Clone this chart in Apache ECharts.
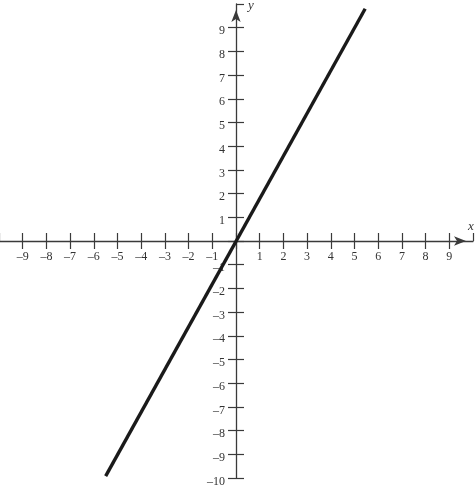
<!DOCTYPE html>
<html>
<head>
<meta charset="utf-8">
<script src="https://cdn.jsdelivr.net/npm/echarts@6/dist/echarts.min.js"></script>
<style>
  html, body { margin: 0; padding: 0; background: #fff; }
  #main { width: 475px; height: 486px; }
</style>
</head>
<body>
<div id="main"></div>
<script>
// axis ranges
var xRange = [-10, 10]
var yRange = [-10, 10]
// the straight line, two end points (y ~ 1.8x)
var lineX = [-5.5, 5.45]
var lineY = [-9.92, 9.8]

var lineData = lineX.map(function (x, i) { return [x, lineY[i]] })

var axisColor = '#3a3a3a'
// grid is 474 px square, the axes are pulled in by half of it so they cross at 0
var gridSize = 474
var halfOffset = -gridSize / 2

// minus drawn as a dash like the print, zero left blank
function tickText(v) {
    if (v === 0) return ''
    return v < 0 ? '\u2013' + Math.abs(v) : String(v)
}

var myChart = echarts.init(document.getElementById('main'))

var option = {
    animation: false,
    grid: { left: -1, top: 4, width: gridSize, height: gridSize, containLabel: false, outerBoundsMode: 'none' },
    xAxis: [
        {
            // main x axis: line, arrow, labels, ticks below
            type: 'value', min: xRange[0], max: xRange[1], interval: 1,
            position: 'bottom', offset: halfOffset,
            name: 'x',
            nameLocation: 'end',
            nameGap: -2,
            nameTextStyle: { fontFamily: 'Liberation Serif', fontStyle: 'italic', fontSize: 13, color: '#333',
                align: 'center', verticalAlign: 'bottom', padding: [0, 0, 8, 0] },
            axisLine: { onZero: false, symbol: ['none', 'arrow'], symbolSize: [7, 12], symbolOffset: [0, -7],
                lineStyle: { color: axisColor, width: 1.3 } },
            axisTick: { show: true, inside: false, length: 8, lineStyle: { color: axisColor, width: 1.2 } },
            axisLabel: { margin: 10, showMinLabel: false, showMaxLabel: false, formatter: tickText,
                fontFamily: 'Liberation Serif', fontSize: 12, color: '#333' },
            splitLine: { show: false }
        },
        {
            // second x axis only to make the ticks cross the line
            type: 'value', min: xRange[0], max: xRange[1], interval: 1,
            position: 'bottom', offset: halfOffset,
            axisLine: { show: false, onZero: false },
            axisTick: { show: true, inside: true, length: 8, lineStyle: { color: axisColor, width: 1.2 } },
            axisLabel: { show: false },
            splitLine: { show: false }
        }
    ],
    yAxis: [
        {
            type: 'value', min: yRange[0], max: yRange[1], interval: 1,
            position: 'left', offset: halfOffset,
            name: 'y',
            nameLocation: 'end',
            nameGap: -2,
            nameTextStyle: { fontFamily: 'Liberation Serif', fontStyle: 'italic', fontSize: 13, color: '#333',
                align: 'left', verticalAlign: 'middle', padding: [0, 0, 0, 12] },
            axisLine: { onZero: false, symbol: ['none', 'arrow'], symbolSize: [7, 12], symbolOffset: [0, -6],
                lineStyle: { color: axisColor, width: 1.3 } },
            axisTick: { show: true, inside: false, length: 8, lineStyle: { color: axisColor, width: 1.2 } },
            // labels sit a little below their ticks in the print
            axisLabel: { margin: 11, showMaxLabel: false, formatter: tickText,
                verticalAlign: 'top', lineHeight: 7,
                fontFamily: 'Liberation Serif', fontSize: 12, color: '#333' },
            splitLine: { show: false }
        },
        {
            type: 'value', min: yRange[0], max: yRange[1], interval: 1,
            position: 'left', offset: halfOffset,
            axisLine: { show: false, onZero: false },
            axisTick: { show: true, inside: true, length: 8, lineStyle: { color: axisColor, width: 1.2 } },
            axisLabel: { show: false },
            splitLine: { show: false }
        }
    ],
    series: [
        {
            type: 'line',
            xAxisIndex: 0,
            yAxisIndex: 0,
            data: lineData,
            symbol: 'none',
            lineStyle: { color: '#1a1a1a', width: 3.4 },
            silent: true
        }
    ]
}

myChart.setOption(option)
</script>
</body>
</html>
